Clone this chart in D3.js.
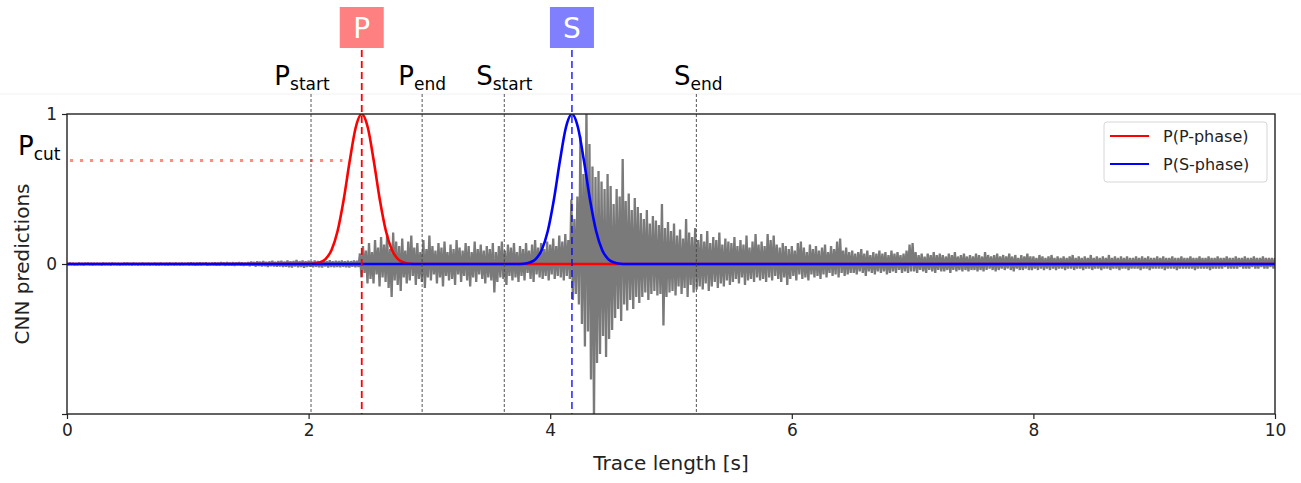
<!DOCTYPE html>
<html>
<head>
<meta charset="utf-8">
<script src="https://cdn.jsdelivr.net/npm/d3@7"></script>
<style>
  body { margin: 0; background: #fff; }
  svg { display: block; font-family: "DejaVu Sans", sans-serif; }
</style>
</head>
<body>
<svg id="canvas" width="1301" height="483"></svg>
<script>
// seismic trace, one sample every 0.0125 s, one row per 0.25 s
const traceStep = 0.0125;
const traceAmp = [
  .004,-.005,.006,-.004,.005,-.006,.003,-.005,.006,-.004,.004,-.006,.005,-.003,.006,-.005,.004,-.006,.005,-.004,
  .005,-.004,.003,-.006,.006,-.005,.004,-.004,.005,-.006,.006,-.003,.004,-.005,.005,-.006,.003,-.004,.006,-.005,
  .006,-.005,.004,-.007,.007,-.004,.005,-.006,.004,-.005,.007,-.006,.005,-.004,.006,-.007,.004,-.005,.006,-.006,
  .005,-.007,.007,-.005,.004,-.006,.006,-.007,.007,-.004,.005,-.006,.006,-.005,.004,-.007,.007,-.006,.005,-.005,
  .007,-.008,.009,-.006,.006,-.009,.008,-.007,.010,-.008,.007,-.006,.009,-.010,.006,-.008,.008,-.007,.010,-.009,
  .008,-.010,.011,-.007,.009,-.011,.012,-.009,.008,-.010,.011,-.012,.009,-.008,.012,-.010,.010,-.011,.008,-.009,
  .012,-.014,.016,-.011,.013,-.017,.018,-.013,.015,-.016,.020,-.014,.014,-.019,.017,-.015,.021,-.016,.015,-.018,
  .019,-.016,.022,-.020,.016,-.018,.024,-.021,.018,-.023,.020,-.017,.026,-.022,.019,-.020,.023,-.025,.018,-.019,
  .021,-.018,.017,-.022,.024,-.019,.020,-.021,.018,-.024,.022,-.017,.019,-.023,.025,-.020,.018,-.022,.021,-.019,
  .020,-.022,.023,-.019,.018,-.021,.022,-.024,.019,-.018,.024,-.021,.021,-.020,.07,-.09,.12,-.06,.09,-.13,
  .14,-.10,.08,-.13,.16,-.07,.11,-.15,.18,-.09,.13,-.12,.20,-.16,.10,-.22,.21,-.11,.15,-.14,
  .12,-.18,.17,-.09,.09,-.13,.15,-.11,.19,-.08,.11,-.14,.14,-.10,.08,-.12,.16,-.16,.10,-.09,
  .19,-.11,.12,-.07,.09,-.13,.14,-.09,.11,-.15,.15,-.08,.08,-.11,.13,-.10,.10,-.14,.16,-.07,
  .11,-.12,.09,-.08,.14,-.11,.12,-.15,.08,-.09,.15,-.12,.10,-.07,.13,-.10,.09,-.13,.12,-.09,
  .10,-.11,.14,-.19,.08,-.12,.12,-.09,.15,-.10,.09,-.14,.13,-.08,.11,-.11,.14,-.09,.08,-.12,
  .12,-.08,.10,-.11,.14,-.06,.09,-.10,.13,-.12,.16,-.07,.11,-.09,.14,-.10,.10,-.08,.15,-.11,
  .13,-.07,.17,-.10,.12,-.08,.19,-.09,.15,-.11,.20,-.08,.16,-.10,.43,-.24,.30,-.20,.45,-.27,
  .85,-.40,.60,-.55,1.05,-.45,.80,-.77,.65,-1.05,.58,-.66,.62,-.60,.55,-.48,.50,-.62,.60,-.50,
  .52,-.44,.40,-.36,.50,-.30,.45,-.38,.70,-.27,.42,-.31,.47,-.24,.36,-.30,.44,-.22,.38,-.26,
  .34,-.22,.30,-.19,.36,-.24,.27,-.20,.32,-.18,.29,-.21,.26,-.20,.40,-.41,.24,-.22,.28,-.19,
  .22,-.18,.27,-.21,.19,-.15,.23,-.20,.17,-.16,.30,-.22,.21,-.14,.18,-.19,.24,-.17,.16,-.15,
  .20,-.17,.15,-.13,.22,-.18,.14,-.15,.18,-.12,.16,-.16,.21,-.13,.13,-.15,.17,-.11,.15,-.14,
  .14,-.12,.18,-.10,.12,-.13,.16,-.09,.13,-.14,.19,-.11,.11,-.10,.15,-.12,.20,-.09,.13,-.11,
  .15,-.10,.12,-.12,.20,-.09,.16,-.11,.19,-.08,.13,-.10,.11,-.12,.14,-.09,.12,-.14,.10,-.10,
  .12,-.08,.09,-.11,.14,-.07,.15,-.10,.11,-.09,.08,-.11,.13,-.07,.10,-.09,.12,-.08,.09,-.10,
  .11,-.07,.13,-.09,.08,-.06,.12,-.08,.10,-.07,.15,-.09,.17,-.06,.09,-.08,.11,-.07,.08,-.06,
  .09,-.06,.07,-.07,.08,-.05,.10,-.06,.07,-.08,.09,-.05,.06,-.06,.08,-.07,.07,-.05,.09,-.06,
  .07,-.05,.08,-.07,.06,-.06,.09,-.05,.07,-.06,.08,-.04,.06,-.06,.07,-.05,.09,-.06,.13,-.05,
  .14,-.05,.08,-.06,.06,-.04,.07,-.05,.05,-.06,.07,-.04,.06,-.05,.08,-.06,.06,-.04,.07,-.05,
  .06,-.05,.05,-.04,.07,-.06,.06,-.04,.08,-.05,.05,-.04,.06,-.05,.07,-.04,.05,-.05,.06,-.04,
  .05,-.04,.07,-.05,.06,-.04,.05,-.05,.08,-.04,.06,-.03,.05,-.04,.06,-.05,.07,-.04,.05,-.03,
  .06,-.04,.05,-.03,.07,-.04,.05,-.05,.06,-.03,.04,-.04,.06,-.04,.05,-.03,.07,-.04,.05,-.04,
  .05,-.03,.04,-.04,.06,-.03,.05,-.04,.04,-.03,.05,-.04,.06,-.03,.04,-.04,.05,-.03,.04,-.03,
  .05,-.04,.04,-.03,.05,-.03,.06,-.04,.04,-.03,.05,-.03,.04,-.04,.05,-.03,.04,-.03,.06,-.04,
  .04,-.03,.05,-.03,.04,-.04,.05,-.03,.04,-.03,.06,-.04,.04,-.03,.05,-.03,.04,-.04,.05,-.03,
  .04,-.03,.05,-.04,.04,-.03,.04,-.03,.05,-.03,.04,-.04,.05,-.03,.04,-.03,.05,-.04,.04,-.03,
  .04,-.03,.05,-.03,.04,-.03,.05,-.04,.04,-.03,.04,-.03,.05,-.03,.04,-.04,.04,-.03,.05,-.03,
  .04,-.03,.04,-.03,.05,-.03,.04,-.04,.04,-.03,.05,-.03,.04,-.03,.04,-.03,.05,-.04,.04,-.03,
  .04,-.03,.05,-.03,.04,-.03,.04,-.02,.05,-.03,.04,-.03,.04,-.03,.05,-.03,.04,-.02,.04,-.03,
  .05,-.03,.04,-.03,.04,-.02,.05,-.03,.04,-.03,.04,-.02,.05,-.03,.04,-.03,.04,-.02,.04,-.03,
  .04
];

// CNN output probabilities
const pTimes = [0, 1.99, 2.04, 2.09, 2.14, 2.19, 2.24, 2.29, 2.34, 2.39, 2.44, 2.49, 2.54, 2.59, 2.64, 2.69, 2.74, 2.79, 2.84, 2.89, 10];
const pProb  = [0, 0, 0.002, 0.010, 0.033, 0.094, 0.220, 0.427, 0.685, 0.910, 1, 0.910, 0.685, 0.427, 0.220, 0.094, 0.033, 0.010, 0.002, 0, 0];
const sTimes = [0, 3.73, 3.78, 3.83, 3.88, 3.93, 3.98, 4.03, 4.08, 4.13, 4.18, 4.23, 4.28, 4.33, 4.38, 4.43, 4.48, 4.53, 4.58, 4.63, 10];
const sProb  = [0, 0, 0.002, 0.010, 0.033, 0.094, 0.220, 0.427, 0.685, 0.910, 1, 0.910, 0.685, 0.427, 0.220, 0.094, 0.033, 0.010, 0.002, 0, 0];

const arrivalPhases = ["P", "S"];
const arrivalTimes = [2.44, 4.18];
const pickPhases = ["P", "P", "S", "S"];
const pickSubs = ["start", "end", "start", "end"];
const pickTimes = [2.02, 2.94, 3.62, 5.21];
const pCut = 0.69;
const pCutEnd = 2.28;

const xTicks = [0, 2, 4, 6, 8, 10];
const yTicks = [-1, 0, 1];
const yTickLabels = ["", "0", "1"];
const legendLabels = ["P(P-phase)", "P(S-phase)"];

const svg = d3.select("#canvas");
const plotLeft = 67, plotRight = 1275, plotTop = 114, plotBottom = 414;
const x = d3.scaleLinear().domain([0, 10]).range([plotLeft, plotRight]);
const y = d3.scaleLinear().domain([-1, 1]).range([plotBottom, plotTop]);

svg.append("defs").append("clipPath").attr("id", "plot")
  .append("rect").attr("x", plotLeft).attr("y", plotTop)
  .attr("width", plotRight - plotLeft).attr("height", plotBottom - plotTop);

// faint separator line under the labels
svg.append("line").attr("x1", 0).attr("x2", 1301).attr("y1", 94).attr("y2", 94)
  .attr("stroke", "#f2f2f2").attr("stroke-width", 1);

const plot = svg.append("g").attr("clip-path", "url(#plot)");

// waveform
plot.append("path")
  .datum(traceAmp)
  .attr("fill", "none")
  .attr("stroke", "#7a7a7a")
  .attr("stroke-width", 2.3)
  .attr("stroke-linejoin", "bevel")
  .attr("d", d3.line().x((d, i) => x(i * traceStep)).y((d) => y(d)));

// P cut threshold
svg.append("line")
  .attr("x1", x(0) + 3).attr("x2", x(pCutEnd))
  .attr("y1", y(pCut)).attr("y2", y(pCut))
  .attr("stroke", "#ff8a8a").attr("stroke-width", 3)
  .attr("stroke-dasharray", "3,7");

// window picks
svg.selectAll(".pick")
  .data(pickTimes)
  .enter()
  .append("line")
  .attr("class", "pick")
  .attr("x1", (d) => x(d)).attr("x2", (d) => x(d))
  .attr("y1", 94).attr("y2", plotBottom)
  .attr("stroke", "#444").attr("stroke-width", 0.9)
  .attr("stroke-dasharray", "3,2");

const probLine = d3.line().x((d) => x(d[0])).y((d) => y(d[1])).curve(d3.curveMonotoneX);
plot.append("path")
  .datum(pTimes.map((t, i) => [t, pProb[i]]))
  .attr("fill", "none").attr("stroke", "#ff0000").attr("stroke-width", 2.6)
  .attr("d", probLine);
plot.append("path")
  .datum(sTimes.map((t, i) => [t, sProb[i]]))
  .attr("fill", "none").attr("stroke", "#0000ff").attr("stroke-width", 2.6)
  .attr("d", probLine);

// arrival lines and boxes
const arrivalColor = { P: "#ff0000", S: "#0000ff" };
const boxColor = { P: "#ff8080", S: "#8080ff" };
arrivalTimes.forEach((t, i) => {
  const ph = arrivalPhases[i];
  svg.append("line")
    .attr("x1", x(t)).attr("x2", x(t))
    .attr("y1", 50).attr("y2", plotBottom)
    .attr("stroke", arrivalColor[ph])
    .attr("stroke-width", ph === "P" ? 1.8 : 1.3)
    .attr("stroke-dasharray", "7,4");
  svg.append("rect")
    .attr("x", x(t) - 22).attr("y", 7)
    .attr("width", 44).attr("height", 41)
    .attr("fill", boxColor[ph]);
  svg.append("text")
    .attr("x", x(t)).attr("y", 38)
    .attr("text-anchor", "middle")
    .attr("fill", "#fff")
    .style("font-size", "28px")
    .text(ph);
});

// pick labels
const labelShift = [-9, 0, 0, 2];
pickTimes.forEach((t, i) => {
  const txt = svg.append("text")
    .attr("x", x(t) + labelShift[i]).attr("y", 85)
    .attr("text-anchor", "middle")
    .attr("fill", "#000");
  txt.append("tspan").style("font-size", "26px").text(pickPhases[i]);
  txt.append("tspan").attr("dy", 5).style("font-size", "17px").text(pickSubs[i]);
});

// P cut label
const cut = svg.append("text").attr("x", 18).attr("y", 155).attr("fill", "#000");
cut.append("tspan").style("font-size", "26px").text("P");
cut.append("tspan").attr("dy", 5).style("font-size", "17px").text("cut");

// axes
const xAxis = svg.append("g")
  .attr("transform", `translate(0,${plotBottom})`)
  .call(d3.axisBottom(x).tickValues(xTicks).tickSize(5).tickPadding(5).tickFormat(d3.format("d")));
const yAxis = svg.append("g")
  .attr("transform", `translate(${plotLeft},0)`)
  .call(d3.axisLeft(y).tickValues(yTicks).tickSize(5).tickPadding(5).tickFormat((d, i) => yTickLabels[i]));
[xAxis, yAxis].forEach((g) => {
  g.select(".domain").remove();
  g.selectAll("line").attr("stroke", "#222").attr("stroke-width", 1.2);
  g.selectAll("text").attr("fill", "#222").style("font-size", "17px").style("font-family", "DejaVu Sans");
});

svg.append("rect")
  .attr("x", plotLeft).attr("y", plotTop)
  .attr("width", plotRight - plotLeft).attr("height", plotBottom - plotTop)
  .attr("fill", "none").attr("stroke", "#222").attr("stroke-width", 1.4);

svg.append("text")
  .attr("x", (plotLeft + plotRight) / 2).attr("y", 470)
  .attr("text-anchor", "middle").attr("fill", "#222")
  .style("font-size", "20px")
  .text("Trace length [s]");
svg.append("text")
  .attr("transform", `translate(29,${y(0)}) rotate(-90)`)
  .attr("text-anchor", "middle").attr("fill", "#222")
  .style("font-size", "20px")
  .text("CNN predictions");

// legend
const legend = svg.append("g").attr("transform", "translate(1104,122)");
legend.append("rect")
  .attr("width", 163).attr("height", 60).attr("rx", 3)
  .attr("fill", "#fff").attr("stroke", "#d6d6d6");
legendLabels.forEach((lab, i) => {
  legend.append("line")
    .attr("x1", 6).attr("x2", 45)
    .attr("y1", 14 + i * 28).attr("y2", 14 + i * 28)
    .attr("stroke", i === 0 ? "#ff0000" : "#0000ff").attr("stroke-width", 2);
  legend.append("text")
    .attr("x", 59).attr("y", 20 + i * 28)
    .attr("fill", "#222").style("font-size", "16px")
    .text(lab);
});
</script>
</body>
</html>
